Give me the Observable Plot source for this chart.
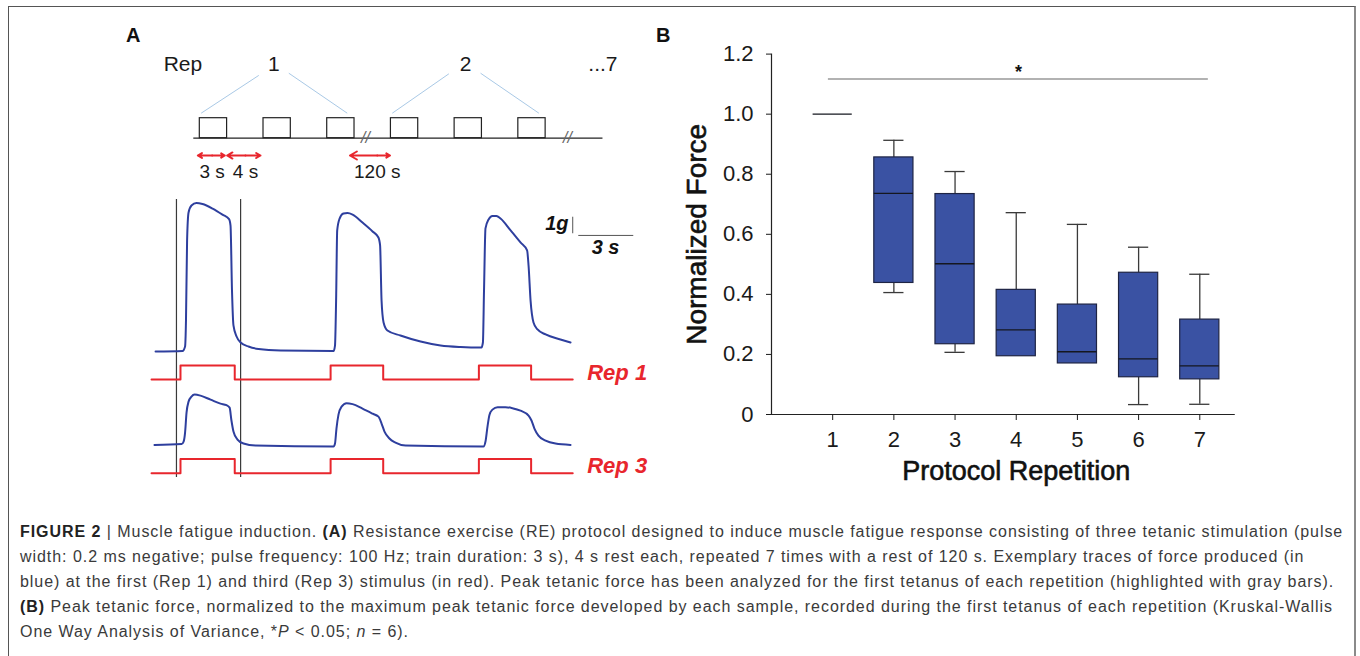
<!DOCTYPE html>
<html><head><meta charset="utf-8">
<script src="https://cdn.jsdelivr.net/npm/d3@7"></script>
<script src="https://cdn.jsdelivr.net/npm/@observablehq/plot@0.6"></script>
<style>
body{margin:0;background:#fff;font-family:"Liberation Sans",Arial,sans-serif;overflow:hidden;}
#frame{position:absolute;left:8px;top:6px;width:1348px;height:670px;border:1px solid #555;border-right:2px solid #8a8a8a;box-sizing:border-box;}
.panel{position:absolute;}
.lab{position:absolute;font-weight:bold;font-size:20px;color:#111;}
#caption{position:absolute;left:20px;top:519px;font-size:16px;letter-spacing:0.95px;line-height:25px;color:#3a3a3a;white-space:nowrap;}
#caption b{color:#222;}
</style></head><body>
<div id="frame"></div>
<div class="lab" style="left:126px;top:24px;">A</div>
<div class="lab" style="left:656px;top:24px;">B</div>
<div id="a1" class="panel" style="left:0;top:0;"></div>
<div id="a2" class="panel" style="left:0;top:190px;"></div>
<div id="b" class="panel" style="left:660px;top:20px;"></div>
<div id="caption">
<div><b>FIGURE 2</b> | Muscle fatigue induction. <b>(A)</b> Resistance exercise (RE) protocol designed to induce muscle fatigue response consisting of three tetanic stimulation (pulse</div>
<div>width: 0.2 ms negative; pulse frequency: 100 Hz; train duration: 3 s), 4 s rest each, repeated 7 times with a rest of 120 s. Exemplary traces of force produced (in</div>
<div>blue) at the first (Rep 1) and third (Rep 3) stimulus (in red). Peak tetanic force has been analyzed for the first tetanus of each repetition (highlighted with gray bars).</div>
<div><b>(B)</b> Peak tetanic force, normalized to the maximum peak tetanic force developed by each sample, recorded during the first tetanus of each repetition (Kruskal-Wallis</div>
<div>One Way Analysis of Variance, *<i>P</i> &lt; 0.05; <i>n</i> = 6).</div>
</div>
<script>
// ---------- Panel B data (box plot summary) ----------
const reps = [1, 2, 3, 4, 5, 6, 7];
const whiskerLow  = [1.0, 0.406, 0.207, 0.194, 0.170, 0.033, 0.034];
const quart1      = [1.0, 0.438, 0.234, 0.194, 0.170, 0.124, 0.117];
const medians     = [1.0, 0.736, 0.502, 0.282, 0.209, 0.185, 0.162];
const quart3      = [1.0, 0.856, 0.734, 0.415, 0.366, 0.472, 0.316];
const whiskerHigh = [1.0, 0.913, 0.809, 0.672, 0.633, 0.557, 0.467];
const yTicks = [0, 0.2, 0.4, 0.6, 0.8, 1.0, 1.2];
const sigBar = {from: 0.93, to: 7.14, level: 1.117, label: "*"};

// ---------- Panel A schematic data ----------
const pulseStarts = [0, 7, 14, 21, 28, 35];  // schematic seconds
const pulseDuration = 3;
const breakMarks = [18.2, 40.4];
const repLabels = [{t: -1.85, text: "Rep"}, {t: 8.13, text: "1"}, {t: 29.2, text: "2"}, {t: 44.3, text: "...7"}];
const fanLines = [
  {t1: 6.48, y1: 3.14, t2: 0.15, y2: 1.25}, {t1: 9.78, y1: 3.25, t2: 16.2, y2: 1.25},
  {t1: 27.37, y1: 3.22, t2: 21.15, y2: 1.25}, {t1: 30.85, y1: 3.25, t2: 37.26, y2: 1.25}
];
const intervalArrows = [{a: -0.22, b: 2.75, text: "3 s", mid: 1.36}, {a: 3.0, b: 6.67, text: "4 s", mid: 5.02}, {a: 16.5, b: 20.9, text: "120 s", mid: 19.5}];

// ---------- Panel A force traces (time s, force g) ----------
const rep1Time = [0.22,1.69,1.83,1.88,1.94,2.02,2.18,2.45,2.78,3.33,3.87,4.23,4.31,4.39,4.47,4.64,4.86,5.29,5.84,7.04,9.93,
  10.01,10.07,10.13,10.26,10.47,10.69,10.97,11.51,12.06,12.38,12.47,12.55,12.66,12.87,13.58,14.68,15.77,16.86,18.00,
  18.08,18.14,18.22,18.39,18.60,18.82,19.04,19.59,20.13,20.49,20.57,20.68,20.84,21.06,21.50,22.31,22.86];
const rep1Force = [0,0.03,0.30,1.86,6.65,8.32,8.74,8.89,8.83,8.56,8.20,7.93,7.54,3.65,1.56,0.90,0.54,0.30,0.15,0.06,0.03,
  0.36,3.05,7.25,7.96,8.26,8.29,8.20,7.72,7.19,6.83,6.35,3.05,1.74,1.26,0.96,0.60,0.36,0.27,0.24,
  0.54,3.65,7.37,7.90,8.11,8.11,7.96,7.25,6.53,6.05,5.15,3.05,1.74,1.32,1.02,0.72,0.54];
const rep3Time = [0.16,1.64,1.75,1.83,1.91,2.02,2.18,2.35,2.67,3.22,3.76,4.09,4.26,4.36,4.47,4.69,5.02,5.67,9.93,
  10.01,10.09,10.20,10.37,10.64,10.97,11.51,12.06,12.38,12.55,12.71,12.98,13.31,13.86,18.11,
  18.22,18.33,18.44,18.60,18.88,19.31,19.69,20.13,20.57,20.73,20.89,21.11,21.50,22.04,22.86];
const rep3Force = [0,0.05,0.20,0.74,1.93,2.59,2.89,3.01,2.95,2.71,2.47,2.38,2.23,1.46,0.80,0.32,0.08,-0.04,-0.10,
  0.08,0.98,1.81,2.29,2.50,2.44,2.17,1.87,1.69,1.28,0.80,0.38,0.14,-0.04,-0.10,
  0.20,1.10,1.81,2.11,2.26,2.26,2.20,2.05,1.75,1.46,0.98,0.56,0.26,0.08,0];
const stimTime  = [0, 1.58, 4.54, 9.77, 12.64, 17.86, 20.71, 22.98];
const stimLevel = [0, 1, 0, 1, 0, 1, 0, 0];
const highlightTimes = [1.36, 4.86];

// ---------- layout constants ----------
const rowBase = {rep1Stim: -1.68, rep3Trace: -5.59, rep3Stim: -7.29};
const stimHeight = 0.85;
const blue = "#2e3f9e", red = "#e8262d", boxBlue = "#3a52a3";
const font = "Liberation Sans, Arial, sans-serif";

// ===== Panel A1: protocol schematic =====
const a1 = Plot.plot({
  width: 680, height: 190, margin: 0,
  x: {domain: [-21.9, 52.82], axis: null}, y: {domain: [-2.615, 6.885], axis: null},
  style: {fontFamily: font, background: "transparent"},
  marks: [
    Plot.link(fanLines, {x1: "t1", y1: "y1", x2: "t2", y2: "y2", stroke: "#a9c9e6", strokeWidth: 1}),
    Plot.ruleY([0], {x1: -0.66, x2: 44.3, stroke: "#222", strokeWidth: 1.2}),
    Plot.rect(pulseStarts, {x1: d => d, x2: d => d + pulseDuration, y1: 0, y2: 1, stroke: "#222", strokeWidth: 1.2, fill: "none"}),
    Plot.text(breakMarks, {x: d => d, y: 0, text: () => "//", fontSize: 16, fill: "#666", fontStyle: "italic"}),
    Plot.text(repLabels, {x: "t", y: 3.69, text: "text", fontSize: 21, fill: "#1a1a1a"}),
    Plot.arrow(intervalArrows, {x1: "mid", x2: "a", y1: -0.865, y2: -0.865, stroke: red, strokeWidth: 2, headLength: 6}),
    Plot.arrow(intervalArrows, {x1: "mid", x2: "b", y1: -0.865, y2: -0.865, stroke: red, strokeWidth: 2, headLength: 6}),
    Plot.text(intervalArrows, {x: "mid", y: -1.7, text: "text", fontSize: 19, fill: "#1a1a1a"})
  ]
});
document.getElementById("a1").append(a1);

// ===== Panel A2: force traces =====
const rep1 = rep1Time.map((t, i) => ({t, f: rep1Force[i]}));
const rep3 = rep3Time.map((t, i) => ({t, f: rep3Force[i]}));
const stim = stimTime.map((t, i) => ({t, s: stimLevel[i]}));
const a2 = Plot.plot({
  width: 680, height: 300, margin: 0,
  x: {domain: [-8.24, 28.86], axis: null}, y: {domain: [-8.32, 9.64], axis: null},
  style: {fontFamily: font, background: "transparent"},
  marks: [
    Plot.ruleX(highlightTimes, {y1: -7.54, y2: 9.10, stroke: "#3a3a3a", strokeWidth: 1.2}),
    Plot.line(stim, {x: "t", y: d => rowBase.rep1Stim + d.s * stimHeight, curve: "step-after", stroke: red, strokeWidth: 2}),
    Plot.line(stim, {x: "t", y: d => rowBase.rep3Stim + d.s * stimHeight, curve: "step-after", stroke: red, strokeWidth: 2}),
    Plot.line(rep1, {x: "t", y: "f", curve: "monotone-x", stroke: blue, strokeWidth: 2}),
    Plot.line(rep3, {x: "t", y: d => rowBase.rep3Trace + d.f, curve: "monotone-x", stroke: blue, strokeWidth: 2}),
    Plot.ruleX([22.98], {y1: 7.05, y2: 8.04, stroke: "#555", strokeWidth: 1}),
    Plot.ruleY([6.95], {x1: 23.31, x2: 26.31, stroke: "#555", strokeWidth: 1}),
    Plot.text(["1g"], {x: 22.75, y: 7.66, text: d => d, textAnchor: "end", fontSize: 20, fontWeight: "bold", fontStyle: "italic", fill: "#111"}),
    Plot.text(["3 s"], {x: 24.77, y: 6.23, text: d => d, fontSize: 20, fontWeight: "bold", fontStyle: "italic", fill: "#111"}),
    Plot.text(["Rep 1"], {x: 23.77, y: -1.28, text: d => d, textAnchor: "start", fontSize: 22, fontWeight: "bold", fontStyle: "italic", fill: red}),
    Plot.text(["Rep 3"], {x: 23.77, y: -6.87, text: d => d, textAnchor: "start", fontSize: 22, fontWeight: "bold", fontStyle: "italic", fill: red})
  ]
});
document.getElementById("a2").append(a2);

// ===== Panel B: box plot =====
const boxes = reps.map((r, i) => ({rep: r, lo: whiskerLow[i], q1: quart1[i], med: medians[i], q3: quart3[i], hi: whiskerHigh[i]}));
const realBoxes = boxes.filter(d => d.q3 > d.q1);
const lowWh = realBoxes.filter(d => d.lo < d.q1);
const hw = 0.32, cw = 0.165;
const b = Plot.plot({
  width: 600, height: 474, marginLeft: 111, marginRight: 24, marginTop: 33.6, marginBottom: 80,
  x: {domain: [0, 7.6]}, y: {domain: [0, 1.2]},
  style: {fontFamily: font, background: "transparent", color: "#1a1a1a"},
  marks: [
    Plot.ruleX(realBoxes, {x: "rep", y1: "q3", y2: "hi", stroke: "#3a3a3a", strokeWidth: 1.3}),
    Plot.ruleX(lowWh, {x: "rep", y1: "lo", y2: "q1", stroke: "#3a3a3a", strokeWidth: 1.3}),
    Plot.ruleY(realBoxes, {y: "hi", x1: d => d.rep - cw, x2: d => d.rep + cw, stroke: "#3a3a3a", strokeWidth: 1.3}),
    Plot.ruleY(lowWh, {y: "lo", x1: d => d.rep - cw, x2: d => d.rep + cw, stroke: "#3a3a3a", strokeWidth: 1.3}),
    Plot.rect(realBoxes, {x1: d => d.rep - hw, x2: d => d.rep + hw, y1: "q1", y2: "q3", fill: boxBlue, stroke: "#1e2444", strokeWidth: 1.2}),
    Plot.ruleY(boxes, {y: "med", x1: d => d.rep - hw, x2: d => d.rep + hw, stroke: "#15171f", strokeWidth: 1.3}),
    Plot.ruleY([sigBar.level], {x1: sigBar.from, x2: sigBar.to, stroke: "#999", strokeWidth: 1.5}),
    Plot.text([sigBar.label], {x: (sigBar.from + sigBar.to) / 2, y: 1.14, text: d => d, fontSize: 18, fontWeight: "bold", fill: "#111"}),
    Plot.ruleX([0], {y1: 0, y2: 1.2, stroke: "#222", strokeWidth: 1.2}),
    Plot.ruleY([0], {x1: -0.08, x2: 7.58, stroke: "#222", strokeWidth: 1.2}),
    Plot.axisY({ticks: yTicks, tickSize: 5, tickPadding: 13, fontSize: 22, label: null, tickFormat: d => d === 0 ? "0" : d.toFixed(1)}),
    Plot.axisX({ticks: reps, tickSize: 6, tickPadding: 11, fontSize: 22, label: null, tickFormat: d => String(d)}),
    Plot.text(["Normalized Force"], {frameAnchor: "left", dx: -74, rotate: -90, textAnchor: "middle", lineAnchor: "middle", text: d => d, fontSize: 28, fill: "#111", stroke: "#111", strokeWidth: 0.6}),
    Plot.text(["Protocol Repetition"], {x: 4, frameAnchor: "bottom", lineAnchor: "middle", dy: 57, text: d => d, fontSize: 27, fill: "#111", stroke: "#111", strokeWidth: 0.6})
  ]
});
document.getElementById("b").append(b);
</script>
</body></html>
